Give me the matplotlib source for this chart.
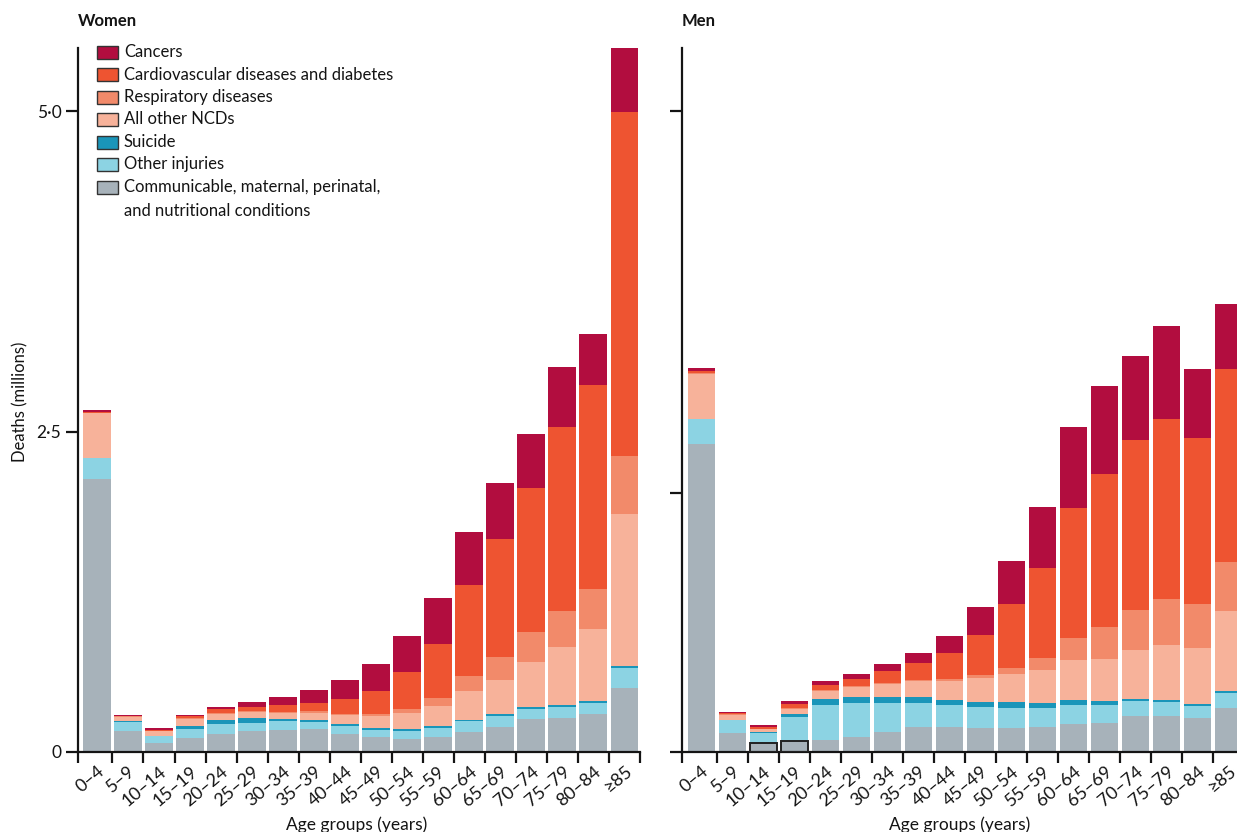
import numpy as np
import matplotlib
matplotlib.use("Agg")
import matplotlib.pyplot as plt
from matplotlib.patches import Rectangle

plt.rcParams['font.family'] = ['Lato', 'DejaVu Sans']

age_groups = ["0–4", "5–9", "10–14", "15–19", "20–24", "25–29", "30–34", "35–39",
              "40–44", "45–49", "50–54", "55–59", "60–64", "65–69", "70–74",
              "75–79", "80–84", "≥85"]

categories = ["Communicable, maternal, perinatal,\nand nutritional conditions",
              "Other injuries", "Suicide", "All other NCDs",
              "Respiratory diseases", "Cardiovascular diseases and diabetes", "Cancers"]
colors = ["#A7B2BA", "#8CD3E3", "#1A95B9", "#F7B29A", "#F28A6A", "#EE5431", "#B20D3F"]

# Women (millions of deaths), stacked bottom -> top
women_comm = [2.13, 0.164, 0.073, 0.112, 0.144, 0.164, 0.170, 0.178, 0.144, 0.117, 0.104, 0.120, 0.157, 0.198, 0.261, 0.269, 0.295, 0.499]
women_inj = [0.160, 0.073, 0.050, 0.070, 0.073, 0.065, 0.068, 0.057, 0.057, 0.055, 0.060, 0.070, 0.081, 0.084, 0.078, 0.084, 0.089, 0.157]
women_sui = [0.002, 0.004, 0.004, 0.021, 0.034, 0.034, 0.018, 0.016, 0.016, 0.013, 0.013, 0.013, 0.013, 0.013, 0.013, 0.013, 0.010, 0.013]
women_ncd = [0.350, 0.032, 0.034, 0.055, 0.042, 0.047, 0.047, 0.052, 0.068, 0.097, 0.128, 0.157, 0.227, 0.269, 0.347, 0.452, 0.567, 1.185]
women_resp = [0.005, 0.005, 0.005, 0.010, 0.010, 0.010, 0.010, 0.013, 0.010, 0.013, 0.029, 0.065, 0.117, 0.175, 0.240, 0.282, 0.308, 0.452]
women_cvd = [0.008, 0.006, 0.008, 0.012, 0.031, 0.031, 0.055, 0.068, 0.117, 0.183, 0.287, 0.418, 0.705, 0.919, 1.117, 1.432, 1.590, 2.683]
women_can = [0.010, 0.008, 0.010, 0.012, 0.018, 0.042, 0.063, 0.102, 0.149, 0.209, 0.287, 0.358, 0.418, 0.439, 0.426, 0.468, 0.398, 0.507]

# Men (millions of deaths)
men_comm = [2.404, 0.151, 0.069, 0.083, 0.091, 0.118, 0.154, 0.195, 0.195, 0.187, 0.187, 0.195, 0.220, 0.229, 0.278, 0.278, 0.264, 0.344]
men_inj = [0.193, 0.096, 0.077, 0.187, 0.275, 0.262, 0.226, 0.190, 0.173, 0.165, 0.160, 0.149, 0.149, 0.138, 0.116, 0.113, 0.096, 0.118]
men_sui = [0.002, 0.005, 0.008, 0.028, 0.047, 0.050, 0.050, 0.044, 0.039, 0.041, 0.041, 0.036, 0.033, 0.028, 0.022, 0.017, 0.011, 0.014]
men_ncd = [0.352, 0.035, 0.022, 0.037, 0.062, 0.078, 0.098, 0.123, 0.148, 0.184, 0.220, 0.262, 0.317, 0.333, 0.377, 0.427, 0.441, 0.620]
men_resp = [0.006, 0.006, 0.006, 0.010, 0.010, 0.010, 0.012, 0.012, 0.012, 0.022, 0.047, 0.091, 0.168, 0.248, 0.317, 0.355, 0.344, 0.385]
men_cvd = [0.015, 0.010, 0.013, 0.028, 0.041, 0.050, 0.088, 0.132, 0.206, 0.314, 0.501, 0.702, 1.013, 1.192, 1.324, 1.404, 1.294, 1.506]
men_can = [0.020, 0.012, 0.012, 0.022, 0.025, 0.039, 0.055, 0.074, 0.129, 0.215, 0.336, 0.474, 0.639, 0.688, 0.658, 0.732, 0.537, 0.504]

women = [women_comm, women_inj, women_sui, women_ncd, women_resp, women_cvd, women_can]
men = [men_comm, men_inj, men_sui, men_ncd, men_resp, men_cvd, men_can]

W, H = 1237, 832
fig = plt.figure(figsize=(W / 100, H / 100), dpi=100)
fig.patch.set_facecolor("white")

px_per_unit = 128.2
ytop = (752 - 48) / px_per_unit
TXT = "#141414"

def style_axes(ax, left_lim, yticks, ylabels):
    x = np.arange(len(age_groups))
    ax.set_xlim(left_lim, len(age_groups) - 0.5)
    ax.set_ylim(0, ytop)
    for s in ["top", "right"]:
        ax.spines[s].set_visible(False)
    for s in ["left", "bottom"]:
        ax.spines[s].set_linewidth(1.6)
        ax.spines[s].set_color(TXT)
    ax.set_xticks([left_lim] + [i + 0.5 for i in range(len(age_groups))])
    ax.set_xticklabels([])
    ax.set_xticks(x, minor=True)
    ax.set_xticklabels(age_groups, minor=True, rotation=40, ha="right", va="top",
                       rotation_mode="anchor", fontsize=13, color=TXT)
    ax.tick_params(axis="x", which="major", direction="out", length=8, width=1.6, color=TXT)
    ax.tick_params(axis="x", which="minor", length=0, pad=8)
    ax.set_yticks(yticks)
    ax.set_yticklabels(ylabels, fontsize=12.5, color=TXT)
    ax.tick_params(axis="y", direction="out", length=9, width=1.6, pad=3, color=TXT)


def draw(ax, data, outline_idx=()):
    x = np.arange(len(age_groups))
    bottom = np.zeros(len(age_groups))
    for vals, col in zip(data, colors):
        vals = np.array(vals)
        ax.bar(x, vals, width=0.9, bottom=bottom, color=col, linewidth=0, zorder=2)
        bottom = bottom + vals
    if outline_idx:
        comm = np.array(data[0])
        idx = list(outline_idx)
        ax.bar(x[idx], comm[idx], width=0.9, bottom=0, facecolor="none",
               edgecolor="#222222", linewidth=1.4, zorder=3)


axW = fig.add_axes([78 / W, (H - 752) / H, 562 / W, 704 / H])
draw(axW, women)
style_axes(axW, -0.61, [0, 2.5, 5.0], ["0", "2·5", "5·0"])

axM = fig.add_axes([682 / W, (H - 752) / H, 562 / W, 704 / H])
draw(axM, men, outline_idx=(2, 3))
style_axes(axM, -0.63, [0, (752 - 493) / px_per_unit, 5.0], ["", "", ""])

fig.text(20 / W, 1 - 402 / H, "Deaths (millions)", fontsize=12, rotation=90,
         va="center", ha="center", color=TXT)
fig.text(357 / W, 1 - 825 / H, "Age groups (years)", fontsize=12.5,
         va="center", ha="center", color=TXT)
fig.text(960 / W, 1 - 825 / H, "Age groups (years)", fontsize=12.5,
         va="center", ha="center", color=TXT)

fig.text(78 / W, 1 - 21 / H, "Women", fontsize=12, fontweight="bold", va="center", ha="left", color=TXT)
fig.text(682 / W, 1 - 21 / H, "Men", fontsize=12, fontweight="bold", va="center", ha="left", color=TXT)

# Legend (drawn manually so the swatch aligns with the first line of each label)
leg_rows = [("Cancers", colors[6]),
            ("Cardiovascular diseases and diabetes", colors[5]),
            ("Respiratory diseases", colors[4]),
            ("All other NCDs", colors[3]),
            ("Suicide", colors[2]),
            ("Other injuries", colors[1]),
            ("Communicable, maternal, perinatal,", colors[0])]
y0, dy = 52, 22.5
for i, (lab, col) in enumerate(leg_rows):
    yc = y0 + i * dy
    fig.patches.append(Rectangle((97 / W, 1 - (yc + 6.5) / H), 21 / W, 13 / H,
                                 transform=fig.transFigure, facecolor=col,
                                 edgecolor="#333333", linewidth=1.0, figure=fig))
    fig.text(124 / W, 1 - yc / H, lab, fontsize=12, va="center", ha="left", color=TXT)
fig.text(124 / W, 1 - (y0 + 7 * dy + 1.5) / H, "and nutritional conditions", fontsize=12,
         va="center", ha="left", color=TXT)

fig.savefig("out.png", dpi=100)
